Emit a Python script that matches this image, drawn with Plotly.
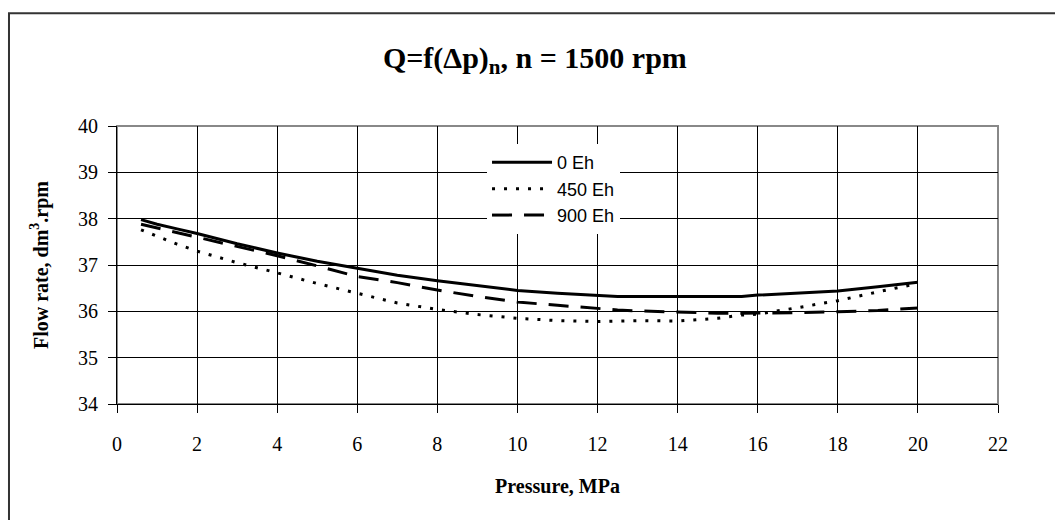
import plotly.graph_objects as go

# Data
pressure = [0.6, 1, 1.5, 2, 3, 4, 5, 6, 7, 8, 9, 10, 11, 12, 12.5, 13, 14, 15, 15.6, 16, 17, 18, 19, 20]
flow_0eh = [37.98, 37.88, 37.78, 37.68, 37.46, 37.26, 37.08, 36.93, 36.78, 36.66, 36.55, 36.45, 36.39,
            36.34, 36.32, 36.32, 36.32, 36.32, 36.32, 36.35, 36.39, 36.44, 36.53, 36.63]
flow_450eh = [37.76, 37.62, 37.45, 37.3, 37.05, 36.83, 36.6, 36.39, 36.18, 36.04, 35.93, 35.85, 35.8,
              35.78, 35.79, 35.8, 35.79, 35.85, 35.92, 35.94, 36.08, 36.23, 36.42, 36.6]
flow_900eh = [37.88, 37.8, 37.7, 37.6, 37.4, 37.2, 36.98, 36.75, 36.62, 36.46, 36.32, 36.2, 36.13,
              36.06, 36.03, 36.01, 35.98, 35.96, 35.96, 35.96, 35.97, 35.99, 36.02, 36.07]
series_names = ["0 Eh", "450 Eh", "900 Eh"]
x_ticks = list(range(0, 23, 2))
y_ticks = list(range(34, 41))

SERIF = "Liberation Serif"
SANS = "Liberation Sans"

fig = go.Figure()
fig.add_trace(go.Scatter(x=pressure, y=flow_0eh, mode="lines", name=series_names[0],
                         line=dict(color="black", width=3, dash="solid")))
fig.add_trace(go.Scatter(x=pressure, y=flow_450eh, mode="lines", name=series_names[1],
                         line=dict(color="black", width=3, dash="3px,9px")))
fig.add_trace(go.Scatter(x=pressure, y=flow_900eh, mode="lines", name=series_names[2],
                         line=dict(color="black", width=3, dash="20px,12px")))

fig.update_layout(
    width=1055, height=520,
    margin=dict(l=117, r=57, t=126, b=116),
    paper_bgcolor="white", plot_bgcolor="white",
    title=dict(text="Q=f(Δp)<sub>n</sub>, n = 1500 rpm", x=0.507, xanchor="center",
               y=0.89, yanchor="middle",
               font=dict(family=SERIF, size=30, color="black", weight="bold")),
    legend=dict(x=0.42, y=0.935, xanchor="left", yanchor="top", bgcolor="white",
                borderwidth=0, font=dict(family=SANS, size=18, color="black"),
                itemwidth=60, tracegroupgap=0),
    showlegend=True,
    xaxis=dict(range=[0, 22], tickvals=x_ticks, ticktext=[str(v) for v in x_ticks],
               showgrid=True, gridcolor="black", gridwidth=1,
               showline=True, linecolor="black", linewidth=1,
               ticks="outside", ticklen=8, tickcolor="black",
               ticklabelstandoff=14,
               tickfont=dict(family=SERIF, size=20, color="black"),
               zeroline=False,
               title=dict(text="Pressure, MPa", standoff=24,
                          font=dict(family=SERIF, size=20, color="black", weight="bold"))),
    yaxis=dict(range=[34, 40], tickvals=y_ticks, ticktext=[str(v) for v in y_ticks],
               showgrid=True, gridcolor="black", gridwidth=1,
               showline=True, linecolor="black", linewidth=1,
               ticks="outside", ticklen=8, tickcolor="black",
               ticklabelstandoff=6,
               tickfont=dict(family=SERIF, size=20, color="black"),
               zeroline=False,
               title=dict(text="Flow rate, dm<sup>3</sup>.rpm", standoff=24,
                          font=dict(family=SERIF, size=20, color="black", weight="bold"))),
    shapes=[
        dict(type="rect", xref="paper", yref="paper", x0=0, x1=1, y0=0, y1=1,
             line=dict(color="#888888", width=2), layer="below"),
        dict(type="rect", xref="paper", yref="paper", x0=-0.1226, x1=1.2, y0=-0.6, y1=1.406,
             line=dict(color="#333333", width=2), layer="above"),
    ],
)

fig.write_html("out.html")
